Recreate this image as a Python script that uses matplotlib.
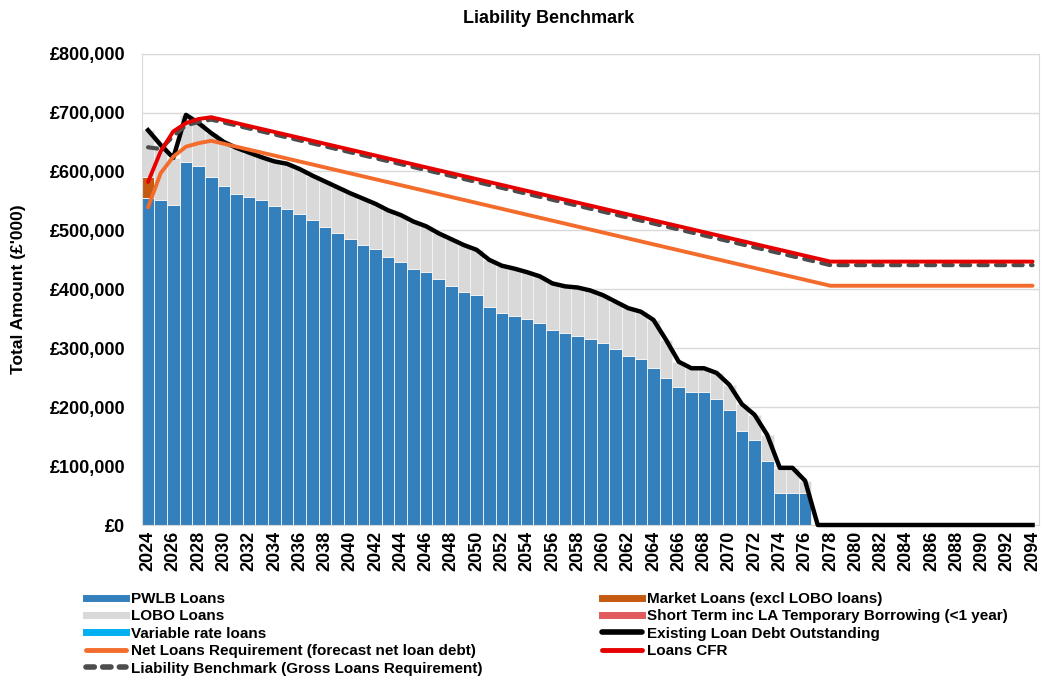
import numpy as np
import matplotlib.pyplot as plt
from matplotlib.lines import Line2D
from matplotlib.ticker import FuncFormatter

plt.rcParams['font.family'] = ['Liberation Sans', 'DejaVu Sans']
plt.rcParams['font.weight'] = 'bold'

# values in £'000
years = np.arange(2024, 2095)
pwlb = [555, 551, 543, 616, 609, 591, 576, 561, 556, 552, 541, 536, 527, 517, 506,
        496, 486, 476, 468, 454, 447, 435, 429, 417, 406, 395, 390, 370, 360, 354,
        350, 342, 331, 326, 321, 316, 309, 298, 287, 282, 267, 250, 235, 225, 225,
        214, 195, 160, 145, 109, 55, 55, 55]
market = [36]
existing_years = list(range(2024, 2078)) + [2094]
existing = [670, 645, 623, 696, 682, 665, 650, 640, 632, 624, 617, 613, 604, 593, 583,
            573, 563, 554, 545, 534, 526, 515, 507, 495, 485, 475, 467, 450, 440, 435,
            429, 422, 410, 405, 403, 398, 390, 379, 368, 362, 348, 314, 277, 266, 266,
            258, 238, 205, 187, 153, 97, 97, 75, 0, 0]

line_years = [2024, 2025, 2026, 2027, 2028, 2029, 2078, 2094]
net_req = [539, 597, 625, 642, 648, 652, 406, 406]
cfr = [582, 634, 668, 682, 689, 692, 447, 447]
liability = [641, 638, 660, 678, 684, 688, 441, 441]

c_pwlb = '#3480BD'
c_lobo = '#D9D9D9'
c_market = '#C55A11'
c_short = '#E05A5E'
c_var = '#00B0F0'
c_net = '#F36C2C'
c_cfr = '#E60000'
c_lb = '#4D4D4D'

fig = plt.figure(figsize=(10.42, 6.79), dpi=100)
ax = fig.add_axes([0.136, 0.2268, 0.861, 0.6943])

bar_years = years[:len(pwlb)]
pwlb_a = np.array(pwlb)
mkt_a = np.zeros(len(pwlb))
mkt_a[:len(market)] = market
lobo = np.array(existing[:len(pwlb)]) - pwlb_a - mkt_a

ax.bar(bar_years, pwlb_a * 1000, width=1.0, color=c_pwlb, edgecolor='#E8EEF5', linewidth=0.7, zorder=2)
ax.bar(bar_years, mkt_a * 1000, width=1.0, bottom=pwlb_a * 1000, color=c_market,
       edgecolor='#F2F2F2', linewidth=0.7, zorder=2)
ax.bar(bar_years, lobo * 1000, width=1.0, bottom=(pwlb_a + mkt_a) * 1000, color=c_lobo,
       edgecolor='#F2F2F2', linewidth=0.7, zorder=2)

ax.plot(existing_years, np.array(existing) * 1000, color='black', lw=3.2, zorder=3,
        solid_joinstyle='round', clip_on=False)
ax.plot(line_years, np.array(net_req) * 1000, color=c_net, lw=2.8, zorder=4,
        solid_joinstyle='round', solid_capstyle='round')
ax.plot(line_years, np.array(liability) * 1000, color=c_lb, lw=3.0, zorder=5,
        dashes=(2.2, 2.0), dash_capstyle='round')
ax.plot(line_years, np.array(cfr) * 1000, color=c_cfr, lw=2.8, zorder=6,
        solid_joinstyle='round', solid_capstyle='round')

ax.set_xlim(2023.5, 2094.5)
ax.set_ylim(0, 800000)
ax.set_xticks(years[::2])
ax.set_xticklabels([str(y) for y in years[::2]], rotation=90, fontsize=13, fontweight='bold')
ax.yaxis.set_major_formatter(FuncFormatter(lambda v, p: '£{:,.0f}'.format(v)))
ax.tick_params(axis='y', labelsize=13, length=0, pad=12)
ax.tick_params(axis='x', length=0, pad=4)
for lab in ax.get_yticklabels():
    lab.set_fontweight('bold')
ax.grid(axis='y', color='#D9D9D9', lw=1, zorder=0)
ax.set_axisbelow(True)
for s in ax.spines.values():
    s.set_color('#D9D9D9')
ax.set_ylabel("Total Amount (£'000)", fontsize=12.5, fontweight='bold', labelpad=17)

fig.text(0.526, 0.973, 'Liability Benchmark', ha='center', va='center', fontsize=13, fontweight='bold')

h_pwlb = Line2D([], [], color=c_pwlb, lw=5)
h_lobo = Line2D([], [], color=c_lobo, lw=5)
h_var = Line2D([], [], color=c_var, lw=5)
h_net = Line2D([], [], color=c_net, lw=3.5, solid_capstyle='round')
h_lb = Line2D([], [], color=c_lb, lw=4, dashes=(1.5, 1.5), dash_capstyle='round')
h_mkt = Line2D([], [], color=c_market, lw=5)
h_short = Line2D([], [], color=c_short, lw=5)
h_exist = Line2D([], [], color='black', lw=4, solid_capstyle='round')
h_cfr = Line2D([], [], color=c_cfr, lw=3.5, solid_capstyle='round')

leg_kw = dict(frameon=False, handlelength=2.6, handletextpad=0.3,
              labelspacing=0.22, borderpad=0, borderaxespad=0, prop={'weight': 'bold', 'size': 11})
leg1 = fig.legend([h_pwlb, h_lobo, h_var, h_net, h_lb],
                  ['PWLB Loans', 'LOBO Loans', 'Variable rate loans',
                   'Net Loans Requirement (forecast net loan debt)',
                   'Liability Benchmark (Gross Loans Requirement)'],
                  loc='upper left', bbox_to_anchor=(0.083, 0.128), **leg_kw)
leg2 = fig.legend([h_mkt, h_short, h_exist, h_cfr],
                  ['Market Loans (excl LOBO loans)', 'Short Term inc LA Temporary Borrowing (<1 year)',
                   'Existing Loan Debt Outstanding', 'Loans CFR'],
                  loc='upper left', bbox_to_anchor=(0.578, 0.128), **leg_kw)

fig.savefig('out.png', dpi=100)
